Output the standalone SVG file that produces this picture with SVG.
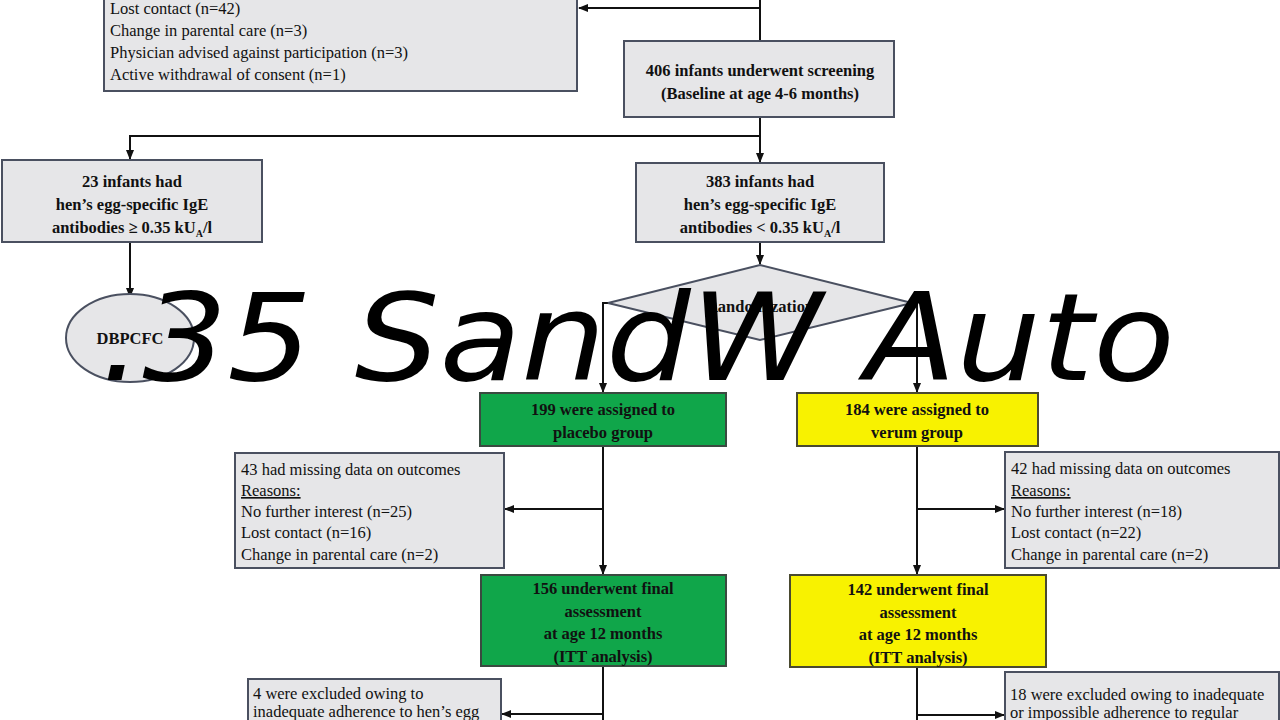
<svg xmlns="http://www.w3.org/2000/svg" width="1280" height="720" viewBox="0 0 1280 720">
<style>
.g{fill:#e6e6e8;stroke:#4a5060;stroke-width:2}
.gr{fill:#10a64a;stroke:#3a4a40;stroke-width:2}
.ye{fill:#f8f200;stroke:#4a4a30;stroke-width:2}
text{font-family:"Liberation Serif",serif;font-size:16.5px;fill:#111}
.b{font-weight:bold;text-anchor:middle}
.c line,.c polyline{stroke:#111;stroke-width:2;fill:none}
</style>
<defs><marker id="a" markerWidth="10" markerHeight="10" refX="9" refY="5" orient="auto" markerUnits="userSpaceOnUse"><path d="M0,1 L10,5 L0,9 Z" fill="#111"/></marker></defs>
<rect width="1280" height="720" fill="#fff"/>
<g class="c">
<line x1="760" y1="0" x2="760" y2="41"/>
<line x1="760" y1="8" x2="579" y2="8" marker-end="url(#a)"/>
<line x1="760" y1="117" x2="760" y2="162" marker-end="url(#a)"/>
<polyline points="760,136 130,136 130,159" marker-end="url(#a)"/>
<line x1="130" y1="242" x2="130" y2="297" marker-end="url(#a)"/>
<line x1="760" y1="242" x2="760" y2="264" marker-end="url(#a)"/>
<polyline points="608,303 603,303 603,392" marker-end="url(#a)"/>
<polyline points="912,303 917,303 917,392" marker-end="url(#a)"/>
<line x1="603" y1="446" x2="603" y2="574" marker-end="url(#a)"/>
<line x1="603" y1="509" x2="505" y2="509" marker-end="url(#a)"/>
<line x1="917" y1="446" x2="917" y2="574" marker-end="url(#a)"/>
<line x1="917" y1="509" x2="1004" y2="509" marker-end="url(#a)"/>
<line x1="603" y1="666" x2="603" y2="720"/>
<line x1="603" y1="714" x2="502" y2="714" marker-end="url(#a)"/>
<line x1="917" y1="667" x2="917" y2="720"/>
<line x1="917" y1="715" x2="1004" y2="715" marker-end="url(#a)"/>
</g>
<g id="lost"><rect class="g" x="104" y="-5" width="473" height="96"/>
<text x="110" y="14">Lost contact (n=42)</text>
<text x="110" y="36">Change in parental care (n=3)</text>
<text x="110" y="58">Physician advised against participation (n=3)</text>
<text x="110" y="80">Active withdrawal of consent (n=1)</text></g>
<g id="screen"><rect class="g" x="624" y="41" width="270" height="76"/>
<text class="b" x="760" y="76">406 infants underwent screening</text>
<text class="b" x="760" y="99">(Baseline at age 4-6 months)</text></g>
<g id="pos"><rect class="g" x="2" y="160" width="260" height="82"/>
<text class="b" x="132" y="187">23 infants had</text>
<text class="b" x="132" y="210">hen’s egg-specific IgE</text>
<text class="b" x="132" y="233">antibodies ≥ 0.35 kU<tspan font-size="10" dy="4">A</tspan><tspan dy="-4">/l</tspan></text></g>
<g id="neg"><rect class="g" x="636" y="163" width="248" height="79"/>
<text class="b" x="760" y="187">383 infants had</text>
<text class="b" x="760" y="210">hen’s egg-specific IgE</text>
<text class="b" x="760" y="233">antibodies &lt; 0.35 kU<tspan font-size="10" dy="4">A</tspan><tspan dy="-4">/l</tspan></text></g>
<g id="dbpcfc"><ellipse class="g" cx="130" cy="338" rx="64" ry="44"/>
<text class="b" x="130" y="344" font-size="15">DBPCFC</text></g>
<g id="rand"><polygon class="g" points="760,265 912,303 760,340 608,303"/>
<text class="b" x="760" y="312" font-size="15">Randomization</text></g>
<g id="plac"><rect class="gr" x="480" y="393" width="246" height="53"/>
<text class="b" x="603" y="415">199 were assigned to</text>
<text class="b" x="603" y="438">placebo group</text></g>
<g id="ver"><rect class="ye" x="797" y="393" width="241" height="53"/>
<text class="b" x="917" y="415">184 were assigned to</text>
<text class="b" x="917" y="438">verum group</text></g>
<g id="miss1"><rect class="g" x="235" y="453" width="269" height="115"/>
<text x="241" y="475">43 had missing data on outcomes</text>
<text x="241" y="496" text-decoration="underline">Reasons:</text>
<text x="241" y="517">No further interest (n=25)</text>
<text x="241" y="538">Lost contact (n=16)</text>
<text x="241" y="560">Change in parental care (n=2)</text></g>
<g id="miss2"><rect class="g" x="1005" y="452" width="274" height="116"/>
<text x="1011" y="474">42 had missing data on outcomes</text>
<text x="1011" y="496" text-decoration="underline">Reasons:</text>
<text x="1011" y="517">No further interest (n=18)</text>
<text x="1011" y="538">Lost contact (n=22)</text>
<text x="1011" y="560">Change in parental care (n=2)</text></g>
<g id="fin1"><rect class="gr" x="481" y="575" width="245" height="91"/>
<text class="b" x="603" y="594">156 underwent final</text>
<text class="b" x="603" y="617">assessment</text>
<text class="b" x="603" y="639">at age 12 months</text>
<text class="b" x="603" y="662">(ITT analysis)</text></g>
<g id="fin2"><rect class="ye" x="790" y="575" width="256" height="92"/>
<text class="b" x="918" y="595">142 underwent final</text>
<text class="b" x="918" y="618">assessment</text>
<text class="b" x="918" y="640">at age 12 months</text>
<text class="b" x="918" y="663">(ITT analysis)</text></g>
<g id="ex1"><rect class="g" x="248" y="679" width="253" height="50"/>
<text x="253" y="699">4 were excluded owing to</text>
<text x="253" y="717">inadequate adherence to hen’s egg</text></g>
<g id="ex2"><rect class="g" x="1005" y="672" width="274" height="60"/>
<text x="1010" y="700">18 were excluded owing to inadequate</text>
<text x="1010" y="718">or impossible adherence to regular</text></g>
<text x="100" y="380" textLength="1075" lengthAdjust="spacingAndGlyphs" style="font-family:'DejaVu Sans',sans-serif;font-style:italic;font-size:122px;fill:#000">.35 SandW Auto</text>
</svg>
